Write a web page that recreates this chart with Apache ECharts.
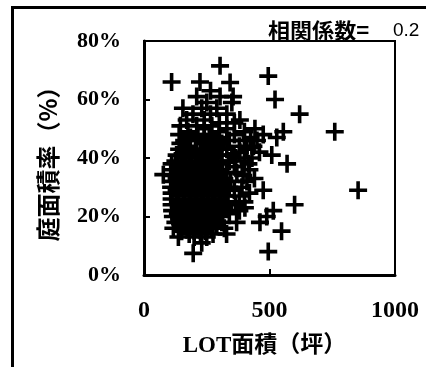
<!DOCTYPE html>
<html>
<head>
<meta charset="utf-8">
<script src="https://cdn.jsdelivr.net/npm/echarts@6/dist/echarts.min.js"></script>
<style>html,body{margin:0;padding:0;background:#fff;}#c{width:426px;height:367px;}</style>
</head>
<body>
<div id="c"></div>
<script>
// x = LOT面積（坪）, y = 庭面積率 (%)
const xTicks = [0, 500, 1000];
const yTicks = [0, 20, 40, 60, 80];
const xName = 'LOT面積（坪）';
const yName = '庭面積率（%）';
const corrLabel = '相関係数=';
const corrValue = '0.2';

// Isolated points
const outliers = [
  [853, 29], [760, 49], [620, 55], [600, 24], [570, 38], [548, 15], [522, 60],
  [495, 68], [495, 8], [555, 49], [529, 47], [515, 22], [509, 41], [489, 20],
  [475, 29], [475, 48], [462, 18], [110, 66], [223, 66], [265, 63], [303, 71.5],
  [343, 65.8], [196, 7.4], [77, 34.3], [137, 13], [230, 11], [117, 16]
];

// Dense cluster, by rows: [y, [x values]]
const clusterRows = [
  [61, [210, 303, 355]],
  [59, [250, 350]],
  [57, [155, 230, 290]],
  [55, [195, 265, 330]],
  [53, [170, 240, 382]],
  [52, [300, 360]],
  [51, [145, 210, 270]],
  [50, [240, 330, 442]],
  [49, [175, 300, 400]],
  [48, [140, 215, 260, 360]],
  [47, [185, 240, 300, 425]],
  [46, [160, 210, 275, 340, 400, 450]],
  [45, [145, 235, 310]],
  [44, [180, 260, 290, 380, 436]],
  [43, [140, 205, 240, 330, 410]],
  [42, [165, 225, 280, 382, 460]],
  [41, [130, 190, 255, 310, 350]],
  [40, [155, 215, 270, 365, 430]],
  [39, [125, 180, 240, 295, 340, 400]],
  [38, [110, 150, 205, 260, 310, 416]],
  [37, [135, 180, 230, 285, 360]],
  [36, [110, 160, 205, 250, 305, 420]],
  [35, [135, 185, 230, 280, 330, 370]],
  [34, [108, 155, 205, 255, 300, 395]],
  [33, [130, 180, 225, 275, 320, 440]],
  [32, [110, 155, 200, 250, 295, 345, 410]],
  [31, [135, 180, 225, 275, 315]],
  [30, [108, 160, 205, 250, 295, 340, 390]],
  [29, [130, 180, 230, 275, 320, 360]],
  [28, [110, 160, 205, 255, 300, 420]],
  [27, [135, 185, 230, 280, 330, 380]],
  [26, [110, 160, 210, 255, 300]],
  [25, [135, 185, 235, 280, 335, 400]],
  [24, [110, 160, 205, 255, 305, 365]],
  [23, [140, 185, 230, 275, 320, 402]],
  [22, [112, 160, 210, 255, 300, 380]],
  [21, [135, 185, 235, 280, 340]],
  [20, [115, 165, 210, 260, 310]],
  [19, [140, 190, 240, 285]],
  [18, [125, 170, 220, 265, 310, 369]],
  [17, [150, 200, 245, 290]],
  [16, [175, 225, 270, 320]],
  [15, [150, 200, 245]],
  [14, [180, 225, 275, 329]],
  [13, [200, 250]]
];

const clusterPoints = [];
clusterRows.forEach(([y, xs]) => xs.forEach(x => clusterPoints.push([x, y])));
const allPoints = clusterPoints.concat(outliers);

const plus = 'path://M7.2,0H10.8V7.2H18V10.8H10.8V18H7.2V10.8H0V7.2H7.2Z';

const chart = echarts.init(document.getElementById('c'), null, {renderer: 'canvas'});
chart.setOption({
  backgroundColor: '#fff',
  animation: false,
  grid: {
    left: 144, top: 41, width: 251, height: 234,
    show: true, borderColor: '#000', borderWidth: 2, backgroundColor: 'transparent'
  },
  xAxis: {
    type: 'value', min: xTicks[0], max: xTicks[xTicks.length - 1], interval: 500,
    axisLine: {show: true, lineStyle: {color: '#000', width: 3}},
    axisTick: {show: true, inside: true, length: 6, lineStyle: {color: '#000', width: 2}},
    splitLine: {show: false},
    axisLabel: {color: '#000', fontFamily: 'Liberation Serif', fontSize: 24, fontWeight: 'bold', margin: 24,
      formatter: v => String(v)},
    name: xName, nameLocation: 'middle', nameGap: 60,
    nameTextStyle: {color: '#000', fontFamily: 'Liberation Serif, "Noto Sans CJK JP"', fontSize: 23, fontWeight: 'bold', padding: [0, 10, 0, 0]}
  },
  yAxis: {
    type: 'value', min: yTicks[0], max: yTicks[yTicks.length - 1], interval: 20,
    axisLine: {show: true, lineStyle: {color: '#000', width: 3}},
    axisTick: {show: true, inside: true, length: 6, lineStyle: {color: '#000', width: 2}},
    splitLine: {show: false},
    axisLabel: {color: '#000', fontFamily: 'Liberation Serif', fontSize: 22, fontWeight: 'bold', margin: 23, formatter: '{value}%'},
    name: yName, nameLocation: 'middle', nameGap: 84,
    nameTextStyle: {color: '#000', fontFamily: '"Noto Sans CJK JP"', fontSize: 24, fontWeight: 'bold'}
  },
  graphic: [
    {type: 'line', shape: {x1: 12.5, y1: 6, x2: 12.5, y2: 367}, style: {stroke: '#000', lineWidth: 3}},
    {type: 'line', shape: {x1: 11, y1: 7.5, x2: 426, y2: 7.5}, style: {stroke: '#000', lineWidth: 3}},
    {type: 'text', x: 268, y: 41, scaleX: 1.05, style: {text: corrLabel, font: 'bold 21px "Noto Sans CJK JP"', fill: '#000', align: 'left', verticalAlign: 'bottom'}},
    {type: 'text', x: 393, y: 40, style: {text: corrValue, font: '19px "Liberation Sans"', fill: '#000', align: 'left', verticalAlign: 'bottom'}}
  ],
  series: [{
    type: 'scatter',
    data: allPoints,
    symbol: plus,
    symbolSize: 18,
    itemStyle: {color: '#000', opacity: 1},
    clip: false
  }]
});
</script>
</body>
</html>
